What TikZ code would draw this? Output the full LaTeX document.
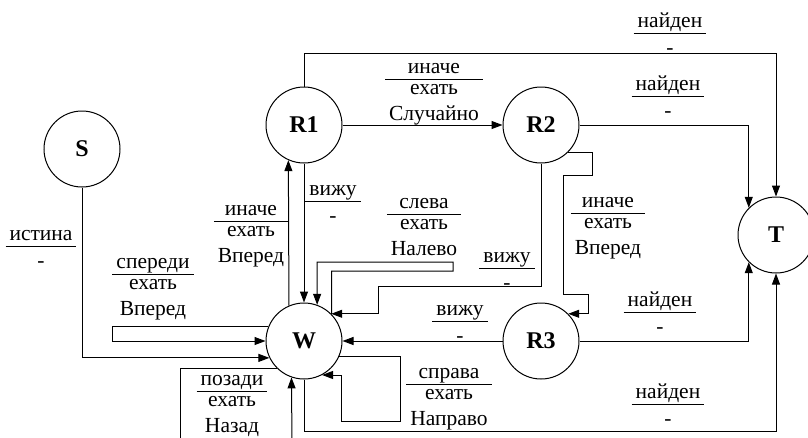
\documentclass[tikz,border=0pt]{standalone}
\usepackage{fontspec}
\setmainfont{Liberation Serif}
\usetikzlibrary{arrows.meta}
\newcommand\labA[3]{{\renewcommand\arraystretch{0}\setlength\arrayrulewidth{1pt}%
\begin{tabular}[t]{@{\hspace{4pt}}c@{\hspace{4pt}}}\rule[-5.5pt]{0pt}{20.5pt}#1\\\hline\rule[-6pt]{0pt}{21pt}#2\\\rule{0pt}{20pt}#3\end{tabular}}}
\newcommand\labB[2]{{\renewcommand\arraystretch{0}\setlength\arrayrulewidth{1pt}%
\begin{tabular}[t]{@{\hspace{4pt}}c@{\hspace{4pt}}}\rule[-5.5pt]{0pt}{20.5pt}#1\\\hline\rule{0pt}{21pt}#2\end{tabular}}}
\tikzset{
  st/.style={circle,draw,line width=1pt,minimum size=76pt,inner sep=0pt,font=\fontsize{24}{28}\selectfont\bfseries},
  arr/.style={-{Triangle[length=11pt,width=8pt]}},
  lab/.style={anchor=base,inner sep=0pt,font=\fontsize{21.5}{25}\selectfont},
}
\begin{document}
\begin{tikzpicture}[x=1pt,y=-1pt,line width=1pt]
\useasboundingbox (0,0) rectangle (808,437);
% states
\node[st] (S)  at (82,149)  {S};
\node[st] (R1) at (304,125) {R1};
\node[st] (R2) at (541,125) {R2};
\node[st] (T)  at (776,235) {T};
\node[st] (W)  at (304,341) {W};
\node[st] (R3) at (541,341) {R3};
% connectors
\draw[arr] (S.south) |- (W.206.6);
\draw[arr] (W.158.4) -| (112,341) -- (W.west);
\draw (W.225.3) -| (180,445);
\draw[arr] (292,445) -- (W.251.6);
\draw[arr] (R1.south) -- (W.north);
\draw[arr] (W.113.2) -- (R1.246.8);
\draw[arr] (R1.east) -- (R2.west);
\draw[arr] (R1.north) |- (T.north |- 0,53) -- (T.north);
\draw[arr] (R2.east) -| (T.135.3);
\draw[arr] (R2.-45.3) -| (592,175) -- (563,175) -- (563,294) -- (588,294) |- (R3.45.3);
\draw[arr] (R2.south) |- (378,286) |- (W.45.3);
\draw[arr] (W.44.7) |- (453,271) |- (317,262) -- (W.70);
\draw[arr] (R3.west) -- (W.east);
\draw[arr] (W.-24.9) -| (400,421) -- (341,421) |- (W.-62);
\draw[arr] (W.south) |- (T.south |- 0,431) -- (T.south);
\draw[arr] (R3.east) -| (T.-135.3);
% labels
\node[lab] (L1)  at (41,240)  {\labB{истина}{-}};
\node[lab] (L2)  at (153,268) {\labA{спереди}{ехать}{Вперед}};
\node[lab] (L3)  at (251,215) {\labA{иначе}{ехать}{Вперед}};
\node[lab] (L4)  at (333,195) {\labB{вижу}{-}};
\node[lab] (L5)  at (424,208) {\labA{слева}{ехать}{Налево}};
\node[lab] (L6)  at (434,73)  {\labA{иначе}{ехать}{Случайно}};
\node[lab] (L7)  at (670,27)  {\labB{найден}{-}};
\node[lab] (L8)  at (668,90)  {\labB{найден}{-}};
\node[lab] (L9)  at (608,207) {\labA{иначе}{ехать}{Вперед}};
\node[lab] (L10) at (507,262) {\labB{вижу}{-}};
\node[lab] (L11) at (460,315) {\labB{вижу}{-}};
\node[lab] (L12) at (449,378) {\labA{справа}{ехать}{Направо}};
\node[lab] (L13) at (660,306) {\labB{найден}{-}};
\node[lab] (L14) at (668,398) {\labB{найден}{-}};
\node[lab] (L15) at (232,385) {\labA{позади}{ехать}{Назад}};
\end{tikzpicture}
\end{document}
